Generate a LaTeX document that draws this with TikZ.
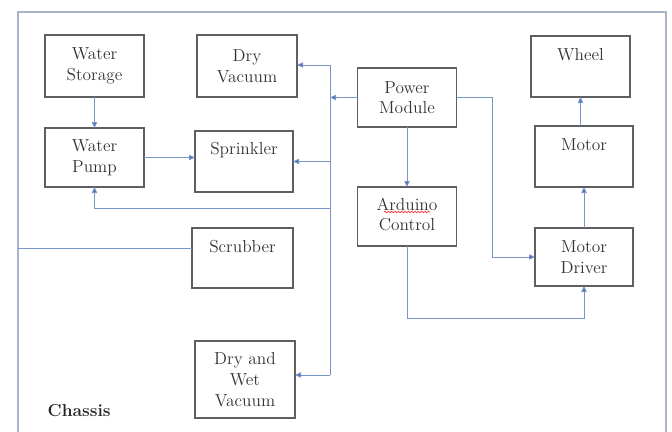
\documentclass[tikz,border=0pt]{standalone}
\usetikzlibrary{arrows.meta,decorations.pathmorphing}
\definecolor{lineblue}{RGB}{120,150,200}
\definecolor{tipblue}{RGB}{70,105,175}
\definecolor{boxgray}{RGB}{95,95,95}
\definecolor{framegray}{RGB}{170,180,200}
\begin{document}
\begin{tikzpicture}[x=0.75pt,y=-0.75pt,
  box/.style={draw=boxgray, line width=0.8pt, inner sep=0pt, outer sep=0pt, rectangle},
  sz/.style 2 args={minimum width={#1*0.75pt}, minimum height={#2*0.75pt}},
  txt/.style={font=\rmfamily\fontsize{13}{15.5}\selectfont, text=black!80, align=center},
  conn/.style={draw=lineblue, line width=0.7pt},
  arr/.style={conn, -{Triangle[length=4.5pt,width=4pt,fill=tipblue]}}]
\useasboundingbox (0,0) rectangle (672,432);
\fill[white] (0,0) rectangle (672,432);
% frame
\draw[framegray, line width=0.8pt] (18,432) -- (18,12) -- (666,12) -- (666,432);
% boxes
\node[box, sz={99}{62}, txt] (ws) at (94.5,66) {Water\\Storage};
\node[box, sz={99}{59}, txt] (wp) at (94.5,157.5) {Water\\Pump};
\node[box, sz={100}{62}, txt] (dv) at (247,66) {Dry\\Vacuum};
\node[box, sz={98}{61}] (sp) at (244,161.5) {};
\node[txt] (spT) at (244,150) {Sprinkler};
\node[box, sz={99}{59}, txt] (pm) at (407,97.5) {Power\\Module};
\node[box, sz={99}{61}] (wh) at (580.5,66.5) {};
\node[txt] (whT) at (580.5,55) {Wheel};
\node[box, sz={98}{61}] (mo) at (584,156.5) {};
\node[txt] (moT) at (584,145) {Motor};
\node[box, sz={99}{59}] (ar) at (407,216.5) {};
\node[txt] (arT) at (407,214.5) {Arduino\\Control};
\node[box, sz={98}{58}, txt] (md) at (584,257) {Motor\\Driver};
\node[box, sz={101}{60}] (sc) at (242.5,258) {};
\node[txt] (scT) at (242.5,247) {Scrubber};
\node[box, sz={100}{77}, txt] (dw) at (245,379.5) {Dry and\\Wet\\Vacuum};
\node[font=\rmfamily\fontsize{13}{15.5}\selectfont\bfseries, text=black!85, anchor=west] (ch) at (43,411) {Chassis};
% spellcheck underline under Arduino
\draw[red!80, line width=0.5pt, decorate, decoration={snake, amplitude=0.6pt, segment length=2.5pt}] (384,212) -- (430,212);
% bus
\coordinate (busTop) at (330,65);
\coordinate (busBot) at (330,375);
\coordinate (busPM) at (330,97.5);
\coordinate (busWP) at (330,208);
\coordinate (chL) at (18,248);
\draw[conn] (busTop) -- (busBot);
\draw[arr] (pm.west) -- (busPM);
\draw[arr] (busTop) -- (busTop -| dv.east);
\draw[arr] (sp.east -| busTop) -- (sp.east);
\draw[arr] (busWP) -| (wp.south);
\draw[arr] (busBot) -- (busBot -| dw.east);
% water
\draw[arr] (ws) -- (wp);
\draw[arr] (wp.east) -- (wp.east -| sp.west);
% scrubber
\draw[conn] (chL) -- (chL -| sc.west);
% power module
\draw[arr] (pm) -- (ar);
\draw[arr] (pm.east) -- ++(36,0) |- (md.west);
\draw[arr] (ar.south) -- ++(0,72) -| (md.south);
\draw[arr] (md) -- (mo);
\draw[arr] (mo.north -| wh) -- (wh.south);
\end{tikzpicture}
\end{document}
